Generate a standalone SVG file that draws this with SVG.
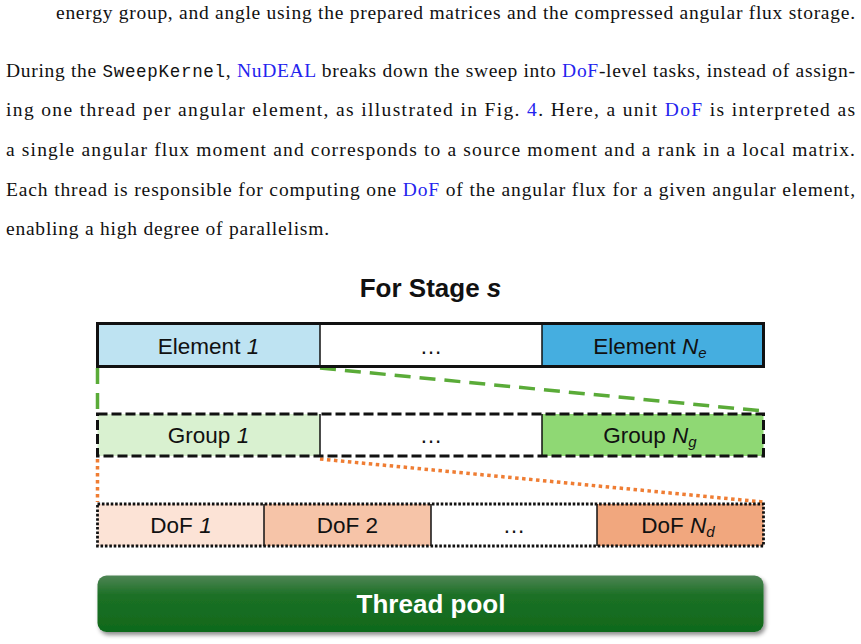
<svg xmlns="http://www.w3.org/2000/svg" width="861" height="644" viewBox="0 0 861 644">
<style>
.p{font-family:"Liberation Serif","Times New Roman",serif;font-size:19.5px;fill:#111}
.m{font-family:"Liberation Mono","Courier New",monospace;font-size:17.5px;fill:#111}
.b{fill:#2424ee}
.t{font-family:"Liberation Sans",Arial,sans-serif;font-size:22.5px;fill:#111;text-anchor:middle}
.i{font-style:italic}
.sub{font-size:15px;font-style:italic}
.cell{stroke:#111;stroke-width:1.5}
.title{font-family:"Liberation Sans",Arial,sans-serif;font-size:26px;font-weight:bold;fill:#111;text-anchor:middle}
.green{fill:none;stroke:#5aab38;stroke-width:3.5;stroke-dasharray:16 9}
.orange{fill:none;stroke:#ef7d33;stroke-width:3.5;stroke-dasharray:3.5 3.5}
</style>
<defs>
<linearGradient id="tp" x1="0" y1="0" x2="0" y2="1">
<stop offset="0" stop-color="#4f8555"/>
<stop offset="0.35" stop-color="#1c7026"/>
<stop offset="1" stop-color="#0f691b"/>
</linearGradient>
<filter id="sh" x="-5%" y="-20%" width="110%" height="150%">
<feDropShadow dx="2" dy="3" stdDeviation="2" flood-color="#000" flood-opacity="0.45"/>
</filter>
</defs>

<g id="paragraph">
<text class="p" x="56" y="19" textLength="799" lengthAdjust="spacing">energy group, and angle using the prepared matrices and the compressed angular flux storage.</text>
<text class="p" x="6" y="77" textLength="849" lengthAdjust="spacing">During the <tspan class="m">SweepKernel</tspan>, <tspan class="b">NuDEAL</tspan> breaks down the sweep into <tspan class="b">DoF</tspan>-level tasks, instead of assign-</text>
<text class="p" x="6" y="116" textLength="849" lengthAdjust="spacing">ing one thread per angular element, as illustrated in Fig. <tspan class="b">4</tspan>.  Here, a unit <tspan class="b">DoF</tspan> is interpreted as</text>
<text class="p" x="6" y="156" textLength="849" lengthAdjust="spacing">a single angular flux moment and corresponds to a source moment and a rank in a local matrix.</text>
<text class="p" x="6" y="196" textLength="849" lengthAdjust="spacing">Each thread is responsible for computing one <tspan class="b">DoF</tspan> of the angular flux for a given angular element,</text>
<text class="p" x="6" y="235" textLength="323" lengthAdjust="spacing">enabling a high degree of parallelism.</text>
</g>

<g id="title"><text class="title" x="430.5" y="297">For Stage <tspan class="i">s</tspan></text></g>

<g id="connectors">
<line class="green" x1="97.5" y1="368" x2="97.5" y2="412"/>
<line class="green" x1="320" y1="368" x2="763" y2="411"/>
<line class="orange" x1="97.5" y1="459" x2="97.5" y2="502"/>
<line class="orange" x1="320" y1="459" x2="763" y2="502"/>
</g>

<g id="elements">
<rect x="97.5" y="323.5" width="222.5" height="43" fill="#bee3f2"/>
<rect x="320" y="323.5" width="222" height="43" fill="#fff"/>
<rect x="542" y="323.5" width="221.5" height="43" fill="#45aee0"/>
<line class="cell" x1="320" y1="323.5" x2="320" y2="366.5"/>
<line class="cell" x1="542" y1="323.5" x2="542" y2="366.5"/>
<rect x="97.5" y="323.5" width="666" height="43" fill="none" stroke="#111" stroke-width="3"/>
<text class="t" x="208.5" y="353.5">Element <tspan class="i">1</tspan></text>
<text class="t" x="431" y="353.5">…</text>
<text class="t" x="650" y="353.5">Element <tspan class="i">N</tspan><tspan class="sub" dy="4">e</tspan></text>
</g>

<g id="groups">
<rect x="97.5" y="414" width="222.5" height="42" fill="#d9f1d0"/>
<rect x="320" y="414" width="222" height="42" fill="#fff"/>
<rect x="542" y="414" width="221.5" height="42" fill="#8fd874"/>
<line class="cell" x1="320" y1="414" x2="320" y2="456"/>
<line class="cell" x1="542" y1="414" x2="542" y2="456"/>
<rect x="97.5" y="414" width="666" height="42" fill="none" stroke="#111" stroke-width="3" stroke-dasharray="10 4"/>
<text class="t" x="208.5" y="443">Group <tspan class="i">1</tspan></text>
<text class="t" x="431" y="443">…</text>
<text class="t" x="650" y="443">Group <tspan class="i">N</tspan><tspan class="sub" dy="4">g</tspan></text>
</g>

<g id="dofs">
<rect x="97.5" y="504" width="166.5" height="42" fill="#fce3d6"/>
<rect x="264" y="504" width="167" height="42" fill="#f6c4a8"/>
<rect x="431" y="504" width="166" height="42" fill="#fff"/>
<rect x="597" y="504" width="166.5" height="42" fill="#f1a77e"/>
<line class="cell" x1="264" y1="504" x2="264" y2="546"/>
<line class="cell" x1="431" y1="504" x2="431" y2="546"/>
<line class="cell" x1="597" y1="504" x2="597" y2="546"/>
<rect x="97.5" y="504" width="666" height="42" fill="none" stroke="#111" stroke-width="2.8" stroke-dasharray="2.6 1.8"/>
<text class="t" x="181" y="532.5">DoF <tspan class="i">1</tspan></text>
<text class="t" x="347.5" y="532.5">DoF 2</text>
<text class="t" x="514" y="532.5">…</text>
<text class="t" x="678" y="532.5">DoF <tspan class="i">N</tspan><tspan class="sub" dy="4">d</tspan></text>
</g>

<g id="threadpool">
<rect x="97.5" y="575.5" width="666" height="56.5" rx="9" fill="url(#tp)" filter="url(#sh)"/>
<text x="431" y="613" font-family="'Liberation Sans',Arial,sans-serif" font-size="26" font-weight="bold" fill="#fff" text-anchor="middle">Thread pool</text>
</g>
</svg>
